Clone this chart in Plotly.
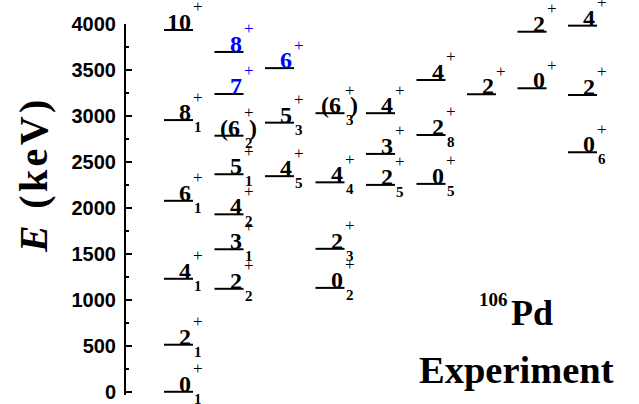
import plotly.graph_objects as go

# ---------------- data ----------------
level_col = [1, 1, 1, 1, 1, 1,
             2, 2, 2, 2, 2, 2, 2,
             3, 3, 3,
             4, 4, 4, 4,
             5, 5, 5,
             6, 6, 6,
             7,
             8, 8,
             9, 9, 9]
level_energy = [0, 512, 1229, 2077, 2955, 3935,
                1120, 1550, 1930, 2366, 2785, 3239, 3696,
                2345, 2927, 3520,
                1130, 1555, 2278, 3030,
                2250, 2587, 3030,
                2261, 2793, 3391,
                3236,
                3301, 3916,
                2605, 3228, 3982]
level_spin = ["0", "2", "4", "6", "8", "10",
              "2", "3", "4", "5", "6", "7", "8",
              "4", "5", "6",
              "0", "2", "4", "6",
              "2", "3", "4",
              "0", "2", "4",
              "2",
              "0", "2",
              "0", "2", "4"]
level_index = ["1", "1", "1", "1", "1", "",
               "2", "1", "2", "1", "2", "", "",
               "5", "3", "",
               "2", "3", "4", "3",
               "5", "", "",
               "5", "8", "",
               "",
               "", "",
               "6", "", ""]
level_paren = [False, False, False, False, False, False,
               False, False, False, False, True, False, False,
               False, False, False,
               False, False, False, True,
               False, False, False,
               False, False, False,
               False,
               False, False,
               False, False, False]
level_color = ["black"] * 11 + ["blue", "blue"] + ["black", "black", "blue"] + ["black"] * 16

ytick_vals = [0, 500, 1000, 1500, 2000, 2500, 3000, 3500, 4000]
ytick_text = ["0", "500", "1000", "1500", "2000", "2500", "3000", "3500", "4000"]
yminor_vals = [250, 750, 1250, 1750, 2250, 2750, 3250, 3750]

nucleus_mass = "106"
nucleus_symbol = "Pd"
panel_label = "Experiment"
HS = "\u200a"
axis_title = "<b><i>E</i>" + HS + " " + HS + "(" + HS + "k" + HS + "e" + HS + "V" + HS + ")</b>"

# ---------------- layout geometry ----------------
W, H = 639, 404
ML, MR, MT, MB = 126, 0, 24, 9
PX_PER_COL = 50.5
COL1_PX = 178.5
HALF = 14.5 / PX_PER_COL
x0 = 1 - (COL1_PX - ML) / PX_PER_COL
x1 = x0 + (W - ML - MR) / PX_PER_COL
Y_RANGE = [-35, 4000]
plot_h = H - MT - MB
plot_w = W - ML - MR

SERIF = "Liberation Serif, Times New Roman, serif"
SANS = "Liberation Sans, Arial, sans-serif"

# ---------------- level lines ----------------
xs, ys = [], []
for c, e in zip(level_col, level_energy):
    xs += [c - HALF, c + HALF, None]
    ys += [e, e, None]

fig = go.Figure()
fig.add_trace(go.Scatter(x=xs, y=ys, mode="lines",
                         line=dict(color="black", width=2),
                         hoverinfo="skip", showlegend=False))

ann = []
for c, e, s, idx, par, col in zip(level_col, level_energy, level_spin,
                                   level_index, level_paren, level_color):
    R = c + HALF
    num = ("(" + s) if par else s
    ann.append(dict(x=R, y=e, xref="x", yref="y", text="<b>%s</b>" % num,
                    xanchor="right", yanchor="bottom", xshift=-2 if par else 0, yshift=-7,
                    showarrow=False, font=dict(family=SERIF, size=24, color=col)))
    ann.append(dict(x=R, y=e, xref="x", yref="y", text="+",
                    xanchor="left", yanchor="middle", xshift=-2, yshift=23,
                    showarrow=False, font=dict(family=SERIF, size=17, color=col)))
    if idx:
        ann.append(dict(x=R, y=e, xref="x", yref="y", text="<b>%s</b>" % idx,
                        xanchor="left", yanchor="top", xshift=-1, yshift=3,
                        showarrow=False, font=dict(family=SERIF, size=15, color=col)))
    if par:
        ann.append(dict(x=R, y=e, xref="x", yref="y", text="<b>)</b>",
                        xanchor="left", yanchor="bottom", xshift=3, yshift=-7,
                        showarrow=False, font=dict(family=SERIF, size=24, color=col)))


def px_to_paper(px, py):
    return (px - ML) / plot_w, (H - MB - py) / plot_h


px, py = px_to_paper(509, 313)
ann.append(dict(x=px, y=py, xref="paper", yref="paper", text="<b>%s</b>" % nucleus_symbol,
                xanchor="left", yanchor="middle", showarrow=False,
                font=dict(family=SERIF, size=36, color="black")))
px, py = px_to_paper(510, 299)
ann.append(dict(x=px, y=py, xref="paper", yref="paper", text="<b>%s</b>" % nucleus_mass,
                xanchor="right", yanchor="middle", showarrow=False,
                font=dict(family=SERIF, size=19, color="black")))
px, py = px_to_paper(516, 369.5)
ann.append(dict(x=px, y=py, xref="paper", yref="paper", text="<b>%s</b>" % panel_label,
                xanchor="center", yanchor="middle", showarrow=False,
                font=dict(family=SERIF, size=38.5, color="black")))
px, py = px_to_paper(33, 177)
ann.append(dict(x=px, y=py, xref="paper", yref="paper", text=axis_title,
                xanchor="center", yanchor="middle", textangle=-90, showarrow=False,
                font=dict(family=SERIF, size=40, color="black")))

fig.update_layout(
    template="none",
    width=W, height=H,
    margin=dict(l=ML, r=MR, t=MT, b=MB, pad=0, autoexpand=False),
    paper_bgcolor="white", plot_bgcolor="white",
    showlegend=False,
    annotations=ann,
    xaxis=dict(visible=False, range=[x0, x1], fixedrange=True, automargin=False),
    yaxis=dict(range=Y_RANGE, showgrid=False, zeroline=False, automargin=False,
               showline=True, linecolor="black", linewidth=2, mirror=False,
               ticks="inside", ticklen=6, tickwidth=2, tickcolor="black",
               tickvals=ytick_vals, ticktext=ytick_text,
               tickfont=dict(family=SANS, size=20, color="black", weight="bold"),
               ticklabelstandoff=4,
               minor=dict(tickvals=yminor_vals, ticks="inside", ticklen=3,
                          tickwidth=1.5, tickcolor="black"),
               fixedrange=True),
)

fig.write_html("out.html",
               config={"displayModeBar": False, "staticPlot": True},
               post_script="document.body.style.margin='0';document.body.style.overflow='hidden';")
